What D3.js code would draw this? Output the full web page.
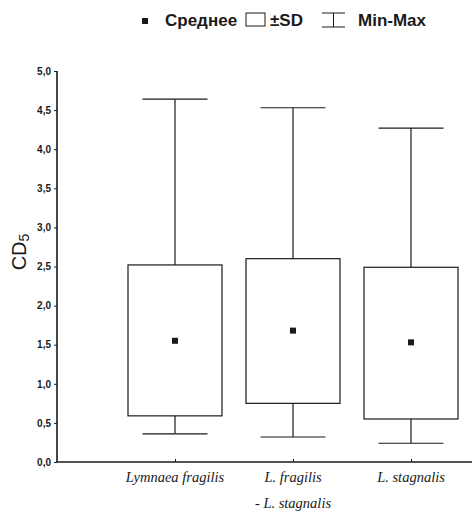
<!DOCTYPE html>
<html>
<head>
<meta charset="utf-8">
<script src="https://cdn.jsdelivr.net/npm/d3@7"></script>
<style>
  html, body { margin: 0; padding: 0; background: #fff; }
  svg { display: block; }
</style>
</head>
<body>
<svg id="chart" width="472" height="513"></svg>
<script>
// Groups compared
const categories = ["Lymnaea fragilis", "L. fragilis", "L. stagnalis"];
const categoryLines = [["Lymnaea fragilis"], ["L. fragilis", "- L. stagnalis"], ["L. stagnalis"]];
// CD5 statistics per group
const means = [1.55, 1.68, 1.53];
const sdLow = [0.59, 0.75, 0.55];
const sdHigh = [2.52, 2.60, 2.49];
const minVals = [0.36, 0.32, 0.24];
const maxVals = [4.64, 4.53, 4.27];
const yTicks = [0, 0.5, 1, 1.5, 2, 2.5, 3, 3.5, 4, 4.5, 5];

const svg = d3.select("#chart");
const ink = "#1a1a1a";

const x = d3.scaleLinear().domain([0, 3.5]).range([57, 470]);
const y = d3.scaleLinear().domain([0, 5]).range([462, 71]);

const fmt = v => d3.format(".1f")(v).replace(".", ",");

// Y axis
const yAxis = svg.append("g")
  .attr("transform", `translate(${x(0)},0)`)
  .call(d3.axisLeft(y).tickValues(yTicks).tickFormat(fmt).tickSize(3).tickPadding(3));
yAxis.select(".domain").attr("stroke", ink).attr("stroke-width", 1.6).attr("d", `M0,${y(5)}V${y(0)}`);
yAxis.selectAll(".tick line").attr("stroke", ink).attr("stroke-width", 1);
yAxis.selectAll(".tick text")
  .attr("font-family", "Liberation Sans, Arial, sans-serif")
  .attr("font-size", 10).attr("font-weight", "bold").attr("fill", ink);

// X axis
const xAxis = svg.append("g")
  .attr("transform", `translate(0,${y(0)})`)
  .call(d3.axisBottom(x).tickValues([1, 2, 3]).tickFormat("").tickSize(-3));
xAxis.select(".domain").attr("stroke", ink).attr("stroke-width", 1.6).attr("d", `M${x(0)},0H472`);
xAxis.selectAll(".tick line").attr("stroke", ink).attr("stroke-width", 1);

// Category labels
categoryLines.forEach((lines, i) => {
  const t = svg.append("text")
    .attr("x", x(i + 1))
    .attr("y", 482)
    .attr("text-anchor", "middle")
    .attr("font-family", "Liberation Serif, Times New Roman, serif")
    .attr("font-style", "italic")
    .attr("font-size", 14.5)
    .attr("fill", ink);
  lines.forEach((ln, j) => {
    t.append("tspan").attr("x", x(i + 1)).attr("dy", j === 0 ? 0 : 26).text(ln);
  });
});

// Y axis title CD5
const yTitle = svg.append("text")
  .attr("transform", `translate(26,252) rotate(-90)`)
  .attr("text-anchor", "middle")
  .attr("font-family", "Liberation Sans, Arial, sans-serif")
  .attr("font-size", 20)
  .attr("fill", ink);
yTitle.append("tspan").text("CD");
yTitle.append("tspan").attr("font-size", 14).attr("dy", 3).text("5");

// Boxes, whiskers and means
const boxW = 94, capW = 65, markS = 6;
const g = svg.append("g").attr("fill", "none").attr("stroke", ink).attr("stroke-width", 1.2);
categories.forEach((c, i) => {
  const cx = x(i + 1);
  // whiskers
  g.append("line").attr("x1", cx).attr("x2", cx).attr("y1", y(maxVals[i])).attr("y2", y(sdHigh[i]));
  g.append("line").attr("x1", cx).attr("x2", cx).attr("y1", y(sdLow[i])).attr("y2", y(minVals[i]));
  g.append("line").attr("x1", cx - capW / 2).attr("x2", cx + capW / 2).attr("y1", y(maxVals[i])).attr("y2", y(maxVals[i]));
  g.append("line").attr("x1", cx - capW / 2).attr("x2", cx + capW / 2).attr("y1", y(minVals[i])).attr("y2", y(minVals[i]));
  // ±SD box
  g.append("rect").attr("x", cx - boxW / 2).attr("y", y(sdHigh[i]))
    .attr("width", boxW).attr("height", y(sdLow[i]) - y(sdHigh[i])).attr("fill", "#fff");
  // mean
  svg.append("rect").attr("x", cx - markS / 2).attr("y", y(means[i]) - markS / 2)
    .attr("width", markS).attr("height", markS).attr("fill", ink);
});

// Legend
const lg = svg.append("g");
const lf = { "font-family": "Liberation Sans, Arial, sans-serif", "font-size": 17, "font-weight": "bold" };
lg.append("rect").attr("x", 142).attr("y", 18).attr("width", 6).attr("height", 6).attr("fill", ink);
const t1 = lg.append("text").attr("x", 165).attr("y", 26).text("Среднее");
lg.append("rect").attr("x", 246).attr("y", 13).attr("width", 19).attr("height", 13)
  .attr("fill", "none").attr("stroke", ink).attr("stroke-width", 1);
const t2 = lg.append("text").attr("x", 270).attr("y", 26).text("±SD");
const wg = lg.append("g").attr("stroke", ink).attr("stroke-width", 1);
wg.append("line").attr("x1", 322).attr("x2", 345).attr("y1", 13).attr("y2", 13);
wg.append("line").attr("x1", 322).attr("x2", 345).attr("y1", 27).attr("y2", 27);
wg.append("line").attr("x1", 333.5).attr("x2", 333.5).attr("y1", 13).attr("y2", 27);
const t3 = lg.append("text").attr("x", 358).attr("y", 26).text("Min-Max");
[t1, t2, t3].forEach(t => { Object.entries(lf).forEach(([k, v]) => t.attr(k, v)); t.attr("fill", ink); });
</script>
</body>
</html>
